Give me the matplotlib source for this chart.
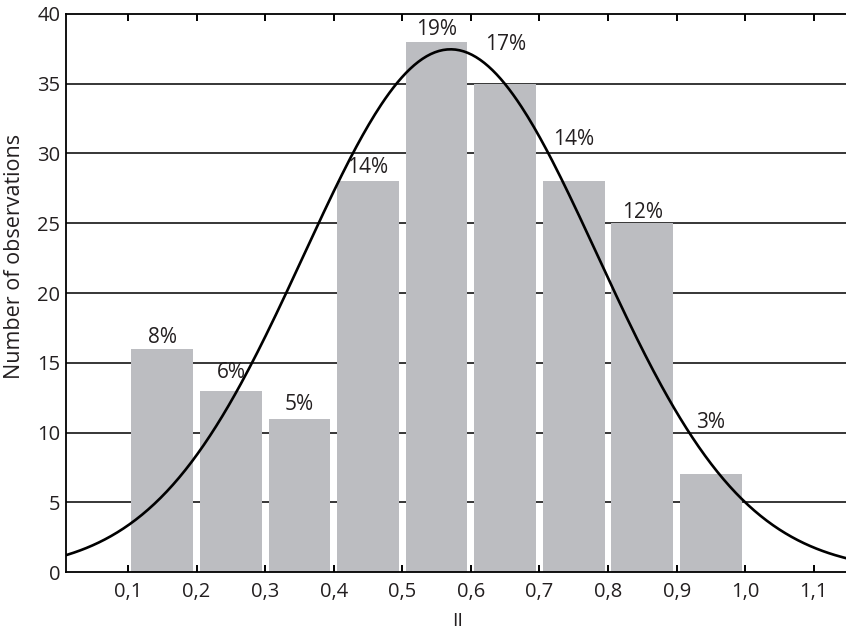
import numpy as np
import matplotlib
matplotlib.use("Agg")
import matplotlib.pyplot as plt

plt.rcParams['font.family'] = ['Open Sans', 'DejaVu Sans']

# class centres and counts
centers = [0.15, 0.25, 0.35, 0.45, 0.55, 0.65, 0.75, 0.85, 0.95]
counts = [16, 13, 11, 28, 38, 35, 28, 25, 7]
xticks = [0.1, 0.2, 0.3, 0.4, 0.5, 0.6, 0.7, 0.8, 0.9, 1.0, 1.1]
yticks = [0, 5, 10, 15, 20, 25, 30, 35, 40]
# where the percent labels sit (y in data units)
label_y = [16.8, 14.3, 12.0, 29.0, 38.9, 37.8, 31.0, 25.8, 10.7]

ink = '#231f20'
bin_w = 0.1

total = sum(counts)
c = np.array(centers)
n = np.array(counts)
mu = (c * n).sum() / total
sd = np.sqrt(((c - mu) ** 2 * n).sum() / total)

fig = plt.figure(figsize=(8.46, 6.36), dpi=100)
ax = fig.add_axes([0.078, 0.1006, 0.922, 0.8774])

ax.bar(centers, counts, width=0.09, color='#bcbdc1', zorder=2)

xs = np.linspace(0.0, 1.2, 400)
ys = total * bin_w / (sd * np.sqrt(2 * np.pi)) * np.exp(-(xs - mu) ** 2 / (2 * sd ** 2))
ax.plot(xs, ys, color='black', lw=1.9, zorder=4)

for x, v, ly in zip(centers, counts, label_y):
    pct = int(round(100 * v / total))
    ax.text(x, ly, f'{pct}%', ha='center', va='center', fontsize=15, color=ink, zorder=5)

for y in yticks[1:-1]:
    ax.axhline(y, color='black', lw=1.1, zorder=1)

ax.set_xlim(0.0095, 1.147)
ax.set_ylim(0, 40)
ax.set_xticks(xticks)
ax.set_xticklabels([f'{t:.1f}'.replace('.', ',') for t in xticks])
ax.set_yticks(yticks)
ax.tick_params(axis='x', direction='in', length=5, width=1.4, top=True,
               labelsize=14.5, labelcolor=ink, pad=7)
ax.tick_params(axis='y', length=0, labelsize=14.5, labelcolor=ink, pad=4)

for s in ['left', 'bottom', 'top']:
    ax.spines[s].set_linewidth(1.3)
ax.spines['right'].set_visible(False)

ax.set_ylabel('Number of observations', fontsize=15.5, color=ink)
ax.yaxis.set_label_coords(-0.053, 0.565)
ax.set_xlabel('II', fontsize=14, color=ink)
ax.xaxis.set_label_coords(0.502, -0.072)

fig.savefig('out.png', dpi=100)
